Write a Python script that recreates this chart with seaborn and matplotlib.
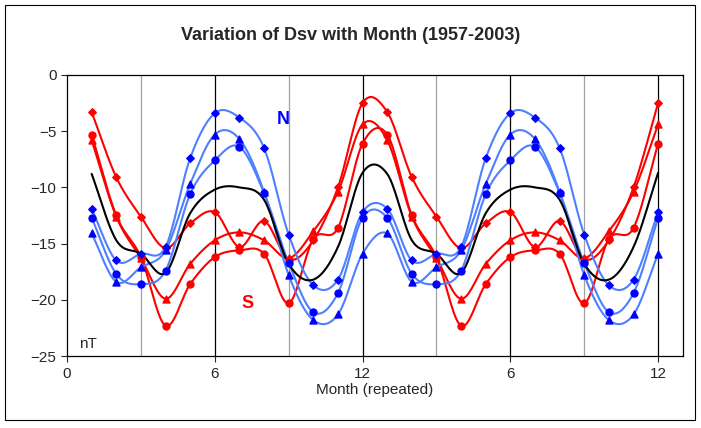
import numpy as np
import matplotlib
matplotlib.use("Agg")
import matplotlib.pyplot as plt
import seaborn as sns
from matplotlib.patches import Rectangle

# monthly values (nT), months 1..12, shown twice
months = list(range(1, 13))
red_diamond = [-3.3, -9.1, -12.6, -15.4, -13.2, -12.2, -15.3, -13.0, -16.4, -14.7, -10.0, -2.5]
red_triangle = [-5.8, -12.6, -16.3, -19.9, -16.8, -14.7, -14.0, -14.7, -16.3, -13.9, -10.4, -4.4]
red_circle = [-5.3, -12.5, -16.2, -22.3, -18.6, -16.2, -15.6, -15.9, -20.3, -14.6, -13.6, -6.1]
blue_diamond = [-11.9, -16.5, -15.9, -15.3, -7.4, -3.4, -3.8, -6.5, -14.2, -18.7, -18.2, -12.2]
blue_triangle = [-14.1, -18.4, -17.1, -15.6, -9.7, -5.3, -5.7, -10.4, -17.8, -21.8, -21.3, -15.9]
blue_circle = [-12.7, -17.7, -18.6, -17.4, -10.6, -7.6, -6.4, -10.5, -16.7, -21.1, -19.4, -12.7]
mean_line = [-8.8, -14.7, -15.9, -17.6, -12.3, -10.2, -10.0, -11.1, -16.8, -18.2, -15.3, -8.7]

x_ticks = [0, 6, 12, 18, 24]
x_labels = ["0", "6", "12", "6", "12"]

sns.set_style("white")
plt.rcParams["font.family"] = ["Liberation Sans", "DejaVu Sans"]


def smooth(x, y, n=20):
    # Catmull-Rom curve through the points, like Excel's smoothed line
    x = np.asarray(x, float)
    y = np.asarray(y, float)
    px = np.concatenate([[2 * x[0] - x[1]], x, [2 * x[-1] - x[-2]]])
    py = np.concatenate([[2 * y[0] - y[1]], y, [2 * y[-1] - y[-2]]])
    t = np.linspace(0, 1, n)
    xs, ys = [], []
    for i in range(1, len(px) - 2):
        for p, out in ((px, xs), (py, ys)):
            p0, p1, p2, p3 = p[i - 1], p[i], p[i + 1], p[i + 2]
            out.extend(0.5 * (2 * p1 + (-p0 + p2) * t
                              + (2 * p0 - 5 * p1 + 4 * p2 - p3) * t ** 2
                              + (-p0 + 3 * p1 - 3 * p2 + p3) * t ** 3))
    return np.array(xs), np.array(ys)


fig = plt.figure(figsize=(7.01, 4.28), dpi=100)
fig.patches.append(Rectangle((0.007, 0.018), 0.985, 0.97, transform=fig.transFigure,
                             fill=False, edgecolor="black", linewidth=0.8))
ax = fig.add_axes([0.0956, 0.168, 0.8784, 0.657])

xs = np.arange(1, 25)
series = [
    (red_diamond, "#ff0000", "#ff0000", "D", 3.8),
    (red_triangle, "#ff0000", "#ff0000", "^", 5),
    (red_circle, "#ff0000", "#ff0000", "o", 5),
    (blue_diamond, "#4d7fff", "#0000ff", "D", 3.8),
    (blue_triangle, "#4d7fff", "#0000ff", "^", 5),
    (blue_circle, "#4d7fff", "#0000ff", "o", 5),
]

for xv in [3, 9, 15, 21]:
    ax.axvline(xv, color="#a0a0a0", linewidth=0.9, zorder=0)
for xv in [6, 12, 18, 24]:
    ax.axvline(xv, color="black", linewidth=0.9, zorder=0)

for vals, lc, mc, mk, ms in series:
    yv = vals + vals
    sx, sy = smooth(xs, yv)
    sns.lineplot(x=sx, y=sy, color=lc, linewidth=1.5, ax=ax, sort=False)
    sns.scatterplot(x=xs, y=yv, marker=mk, s=ms ** 2, color=mc, edgecolor=mc,
                    linewidth=1, ax=ax, zorder=3)

sx, sy = smooth(xs, mean_line + mean_line)
sns.lineplot(x=sx, y=sy, color="black", linewidth=1.5, ax=ax, sort=False)

ax.set_xlim(0, 25)
ax.set_ylim(-25, 0)
ax.set_xticks(x_ticks)
ax.set_xticklabels(x_labels)
ax.set_yticks([0, -5, -10, -15, -20, -25])
ax.tick_params(axis="both", labelsize=11, length=4, direction="out", bottom=True, left=True)
for s in ax.spines.values():
    s.set_color("black")
    s.set_linewidth(0.9)
ax.set_xlabel("Month (repeated)", fontsize=11, labelpad=2)
ax.set_ylabel("")

ax.text(0.5, -24.3, "nT", fontsize=11)
ax.text(8.5, -4.4, "N", fontsize=13, fontweight="bold", color="#0000ff")
ax.text(7.1, -20.7, "S", fontsize=13, fontweight="bold", color="#ff0000")

fig.text(0.5, 1 - 35 / 428, "Variation of Dsv with Month (1957-2003)", ha="center",
         va="center", fontsize=13, fontweight="bold")

fig.savefig("out.png", dpi=100)
